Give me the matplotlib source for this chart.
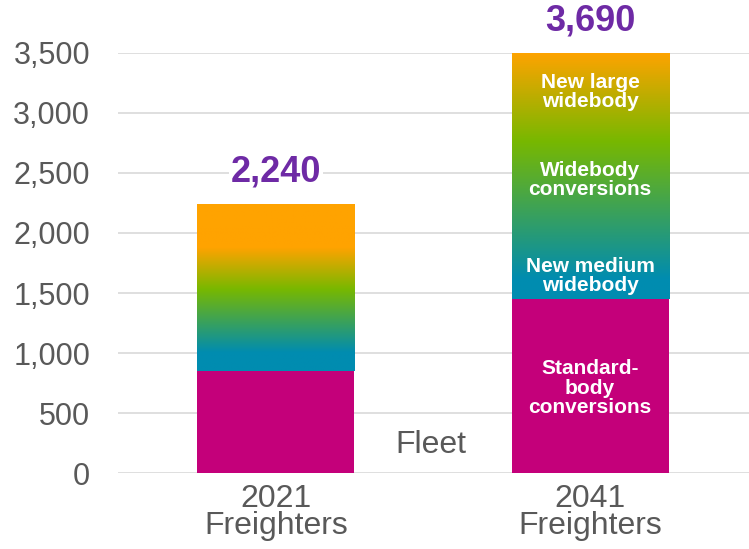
import numpy as np
import matplotlib
matplotlib.use("Agg")
import matplotlib.pyplot as plt
from matplotlib.colors import LinearSegmentedColormap

# ---- data ----
categories = ["2021\nFreighters", "2041\nFreighters"]
totals = [2240, 3690]
total_labels = ["2,240", "3,690"]
standard_body = [850, 1450]
segment_names_2041 = ["Standard-\nbody\nconversions", "New medium\nwidebody",
                      "Widebody\nconversions", "New large\nwidebody"]
yticks = [0, 500, 1000, 1500, 2000, 2500, 3000, 3500]

# ---- styles ----
MAGENTA = "#C4007A"
TEAL = "#008CB0"
GREEN = "#78B800"
ORANGE = "#FFA300"
PURPLE = "#6E2AA5"
GRAY = "#595959"
YMAX = 3500

plt.rcParams["font.family"] = ["Liberation Sans", "DejaVu Sans"]

fig = plt.figure(figsize=(7.49, 5.49), dpi=100)
ax = fig.add_axes([0.1575, 0.1384, 0.8425, 0.7651])

x = np.arange(len(categories))
width = 0.5

# gradient stops (fraction of visible gradient segment) per bar
grad_stops = [
    [(0.0, TEAL), (0.11, TEAL), (0.49, GREEN), (0.74, ORANGE), (1.0, ORANGE)],
    [(0.0, TEAL), (0.08, TEAL), (0.64, GREEN), (1.0, ORANGE)],
]

visible_tops = np.minimum(np.array(totals), YMAX)

ax.bar(x, standard_body, width, color=MAGENTA, zorder=3)
grad_bars = ax.bar(x, visible_tops - np.array(standard_body), width,
                   bottom=standard_body, facecolor="none", edgecolor="none", zorder=3)

for i, patch in enumerate(grad_bars):
    cmap = LinearSegmentedColormap.from_list(f"g{i}", grad_stops[i])
    grad = np.linspace(0, 1, 256).reshape(-1, 1)
    im = ax.imshow(grad, cmap=cmap, aspect="auto", origin="lower",
                   extent=[x[i] - width / 2, x[i] + width / 2, standard_body[i], visible_tops[i]],
                   zorder=3, interpolation="bilinear")
    im.set_clip_path(patch)

ax.set_xlim(-0.503, 1.506)
ax.set_ylim(0, YMAX)
ax.set_yticks(yticks)
ax.set_yticklabels([f"{v:,}" for v in yticks])
ax.set_xticks(x)
ax.set_xticklabels(categories, linespacing=0.88)
ax.tick_params(axis="y", length=0, pad=20, labelsize=22, labelcolor=GRAY)
ax.tick_params(axis="x", length=0, pad=8, labelsize=23, labelcolor=GRAY)
ax.grid(axis="y", color="#D9D9D9", linewidth=1.2, zorder=0)
for s in ax.spines.values():
    s.set_visible(False)

for i in range(len(categories)):
    ax.text(x[i], visible_tops[i] + 265, total_labels[i], ha="center", va="center",
            fontsize=26, fontweight="bold", color=PURPLE, clip_on=False, zorder=4,
            bbox=dict(facecolor="white", edgecolor="none", pad=1))

label_y = [708, 1642, 2442, 3175]
for name, yy in zip(segment_names_2041, label_y):
    ax.text(x[1], yy, name, ha="center", va="center", fontsize=15,
            fontweight="bold", color="white", linespacing=1.05, zorder=5)

ax.text(0.494, 233, "Fleet", ha="center", va="center", fontsize=23, color=GRAY, zorder=5)

fig.savefig("out.png", dpi=100)
